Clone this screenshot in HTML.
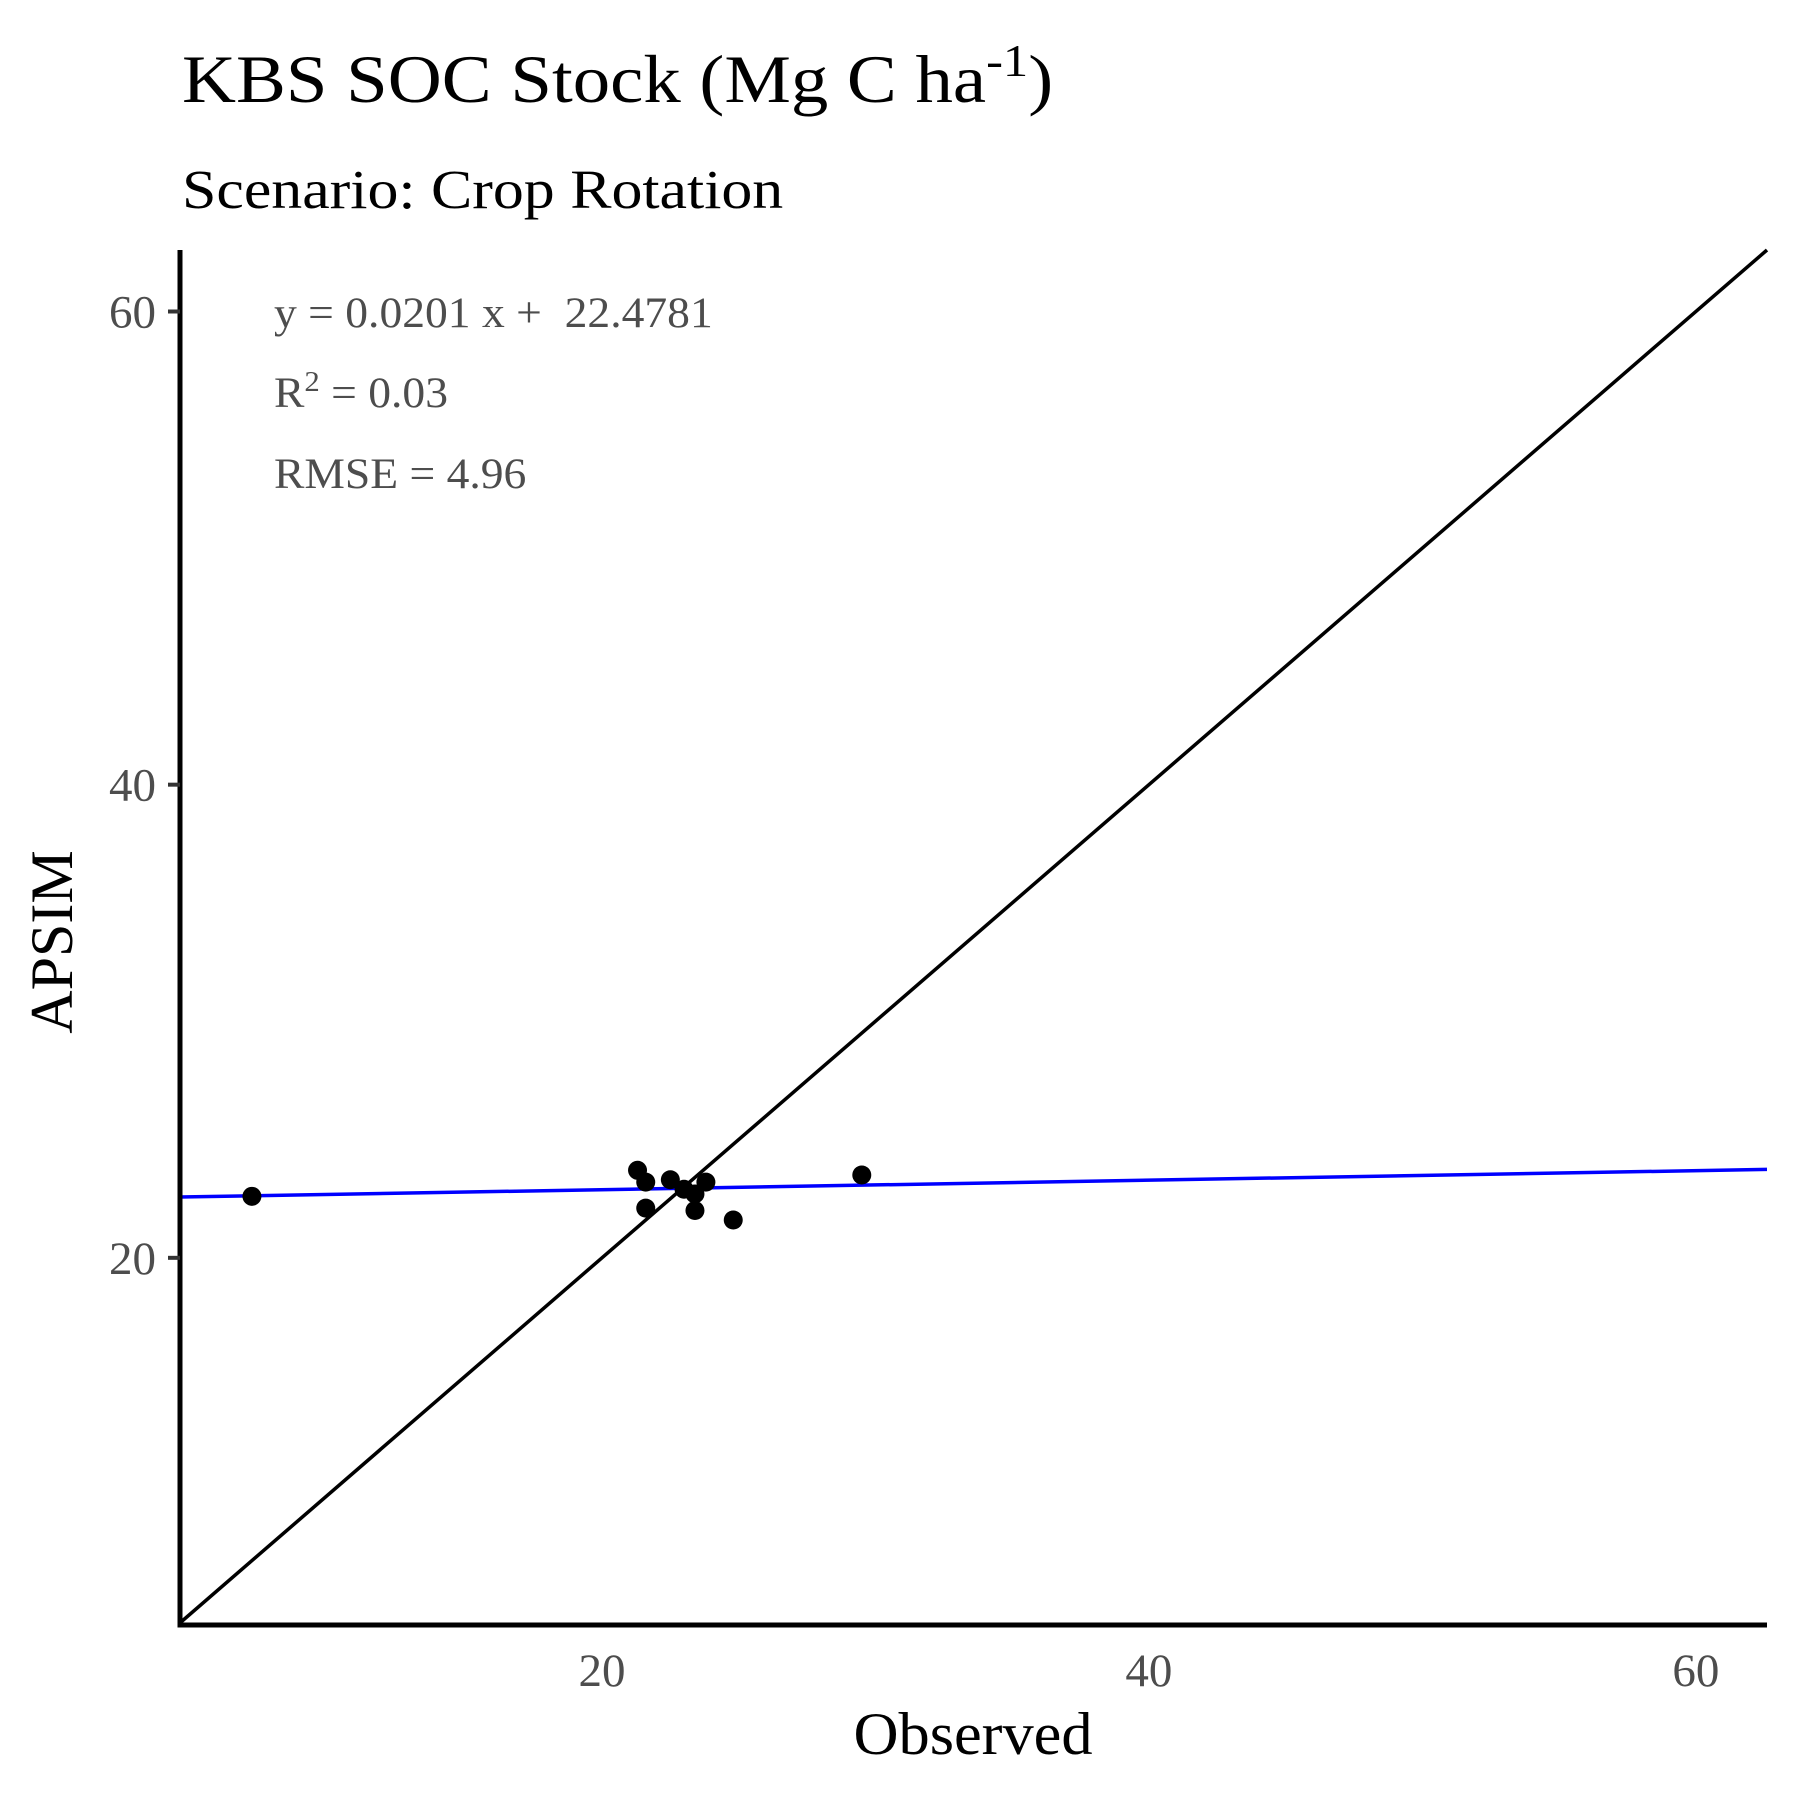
<!DOCTYPE html>
<html><head><meta charset="utf-8"><style>
html,body{margin:0;padding:0;background:#fff;}
svg{display:block;font-family:"Liberation Serif",serif;}
</style></head><body>
<svg id="chart" width="1800" height="1800" viewBox="0 0 1800 1800" xmlns="http://www.w3.org/2000/svg">
<text transform="translate(182,102) scale(1.1,1)" font-size="68" fill="#000">KBS SOC Stock (Mg C ha<tspan dy="-26" font-size="46">-1</tspan><tspan dy="26">)</tspan></text>
<text transform="translate(182,208) scale(1.125,1)" font-size="55" fill="#000">Scenario: Crop Rotation</text>
<g id="plot"></g>
<text transform="translate(274,327) scale(1.06,1)" font-size="43" fill="#4d4d4d" xml:space="preserve">y = 0.0201 x +  22.4781</text>
<text transform="translate(274,407) scale(1.06,1)" font-size="43" fill="#4d4d4d">R<tspan dy="-16" font-size="29">2</tspan><tspan dy="16"> = 0.03</tspan></text>
<text transform="translate(274,488) scale(1.06,1)" font-size="43" fill="#4d4d4d">RMSE = 4.96</text>
<text transform="translate(973,1754) scale(1.04,1)" font-size="60" text-anchor="middle" fill="#000">Observed</text>
<text transform="translate(72,942) rotate(-90)" font-size="60" text-anchor="middle" fill="#000">APSIM</text>
</svg>
<script>
const obsX = [7.2, 21.3, 21.6, 21.6, 22.5, 23.0, 23.4, 23.4, 23.8, 24.8, 29.5];
const simY = [22.6, 23.7, 23.2, 22.1, 23.3, 22.9, 22.0, 22.7, 23.2, 21.6, 23.5];
const xTicks = [20, 40, 60];
const yTicks = [20, 40, 60];
const fitSlope = [0.0201];
const fitIntercept = [22.4781];
const xDomain = [4.57, 62.6];
const yDomain = [4.48, 62.6];

const L = 180, R = 1767, T = 250, B = 1625;
const sx = v => L + (v - xDomain[0]) / (xDomain[1] - xDomain[0]) * (R - L);
const sy = v => B - (v - yDomain[0]) / (yDomain[1] - yDomain[0]) * (B - T);
const NS = 'http://www.w3.org/2000/svg';
const g = document.getElementById('plot');
function mk(tag, attrs){const e=document.createElementNS(NS,tag);for(const k in attrs)e.setAttribute(k,attrs[k]);g.appendChild(e);return e;}

const dLo = Math.max(xDomain[0], yDomain[0]), dHi = Math.min(xDomain[1], yDomain[1]);
let d = mk('line',{x1:sx(dLo),y1:sy(dLo),x2:sx(dHi),y2:sy(dHi),stroke:'#000','stroke-width':3.5});



let f = mk('line',{x1:sx(xDomain[0]),y1:sy(fitIntercept[0]+fitSlope[0]*xDomain[0]),x2:sx(xDomain[1]),y2:sy(fitIntercept[0]+fitSlope[0]*xDomain[1]),stroke:'#0000ff','stroke-width':3.5});



obsX.forEach((x,i)=>{
  const c = mk('circle',{cx:sx(x),cy:sy(simY[i]),r:9.5,fill:'#000'});
  
  
});

let ya = mk('line',{x1:L,y1:T,x2:L,y2:B+2.5,stroke:'#000','stroke-width':5});


let xa = mk('line',{x1:L-2.5,y1:B,x2:R,y2:B,stroke:'#000','stroke-width':5});



yTicks.forEach(v=>{
  const t = mk('line',{x1:L-12,y1:sy(v),x2:L,y2:sy(v),stroke:'#333','stroke-width':4});
  
  
  const l = mk('text',{x:L-24,y:sy(v)+16,'font-size':47,fill:'#4d4d4d','text-anchor':'end'});
  l.textContent = v;
  
  
});
xTicks.forEach(v=>{
  const l = mk('text',{x:sx(v),y:B+61,'font-size':47,fill:'#4d4d4d','text-anchor':'middle'});
  l.textContent = v;
  
  
});
</script>
</body></html>
